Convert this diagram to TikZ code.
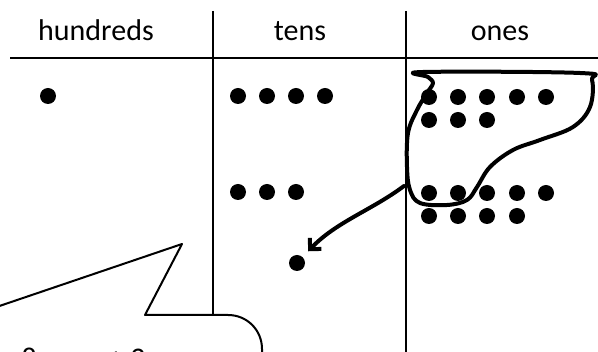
\documentclass[tikz,border=0pt]{standalone}
\usepackage{fontspec}
\setmainfont{Carlito}
\usetikzlibrary{arrows.meta}

\begin{document}
\begin{tikzpicture}[x=1pt, y=-1pt,
  rule/.style={line width=1.3pt},
  counter/.style={circle, fill, inner sep=0pt, minimum size=16pt},
  hand/.style={line width=4pt, line cap=round, line join=round},
  bubble/.style={line width=2pt, fill=white, line join=round},
  heading/.style={font=\fontsize{30}{36}\selectfont, anchor=base}]

\useasboundingbox (0,0) rectangle (598,352);
\clip (0,0) rectangle (598,352);
\fill[white] (0,0) rectangle (598,352);

% column headings
\node[heading] (hund) at (96,41) {hundreds};
\node[heading] (tens) at (300,41) {tens};
\node[heading] (ones) at (500,41) {ones};

% table lines
\draw[rule] (10,58) -- (598,58);
\draw[rule] (213,11) -- (213,330);
\draw[rule] (406,11) -- (406,352);

% counters
\node[counter] (h1) at (48,96) {};
\foreach \x [count=\i] in {238,267,296,325} \node[counter] (t\i) at (\x,96) {};
\foreach \x [count=\i] in {238,267,296} \node[counter] (s\i) at (\x,192) {};
\node[counter] (newten) at (297,263) {};
\foreach \x [count=\i] in {429,458,487,517,546} {
  \node[counter] (p\i) at (\x,97) {};
  \node[counter] (r\i) at (\x,193) {};
}
\foreach \x [count=\i] in {429,458,487} \node[counter] (q\i) at (\x,120) {};
\foreach \x [count=\i] in {429,458,487,517} \node[counter] (w\i) at (\x,216) {};

% ring round ten ones
\draw[hand] plot[smooth cycle, tension=0.6] coordinates {(423,72) (580,73) (592,80) (590,107)
  (573,127) (540,140) (513,150) (490,167) (477,187) (467,200) (447,205) (420,203)
  (410,190) (407,167) (408,133) (417,110) (427,93) (433,83) (428,77)};

% trade for one ten
\coordinate (grab) at (404,186);
\draw[hand, -{Straight Barb[length=8pt, width=16pt]}, shorten >=8pt]
  (grab) .. controls (372,210) and (336,222) .. (newten);

% speech bubble
\draw[bubble] (-30,316) -- (182,244) -- (145,315) -- (228,315)
  .. controls (247,315) and (262,330) .. (262,349) -- (262,370);
\node[heading, anchor=base west] (say) at (18,369) {8 ones + 2 ones};

\end{tikzpicture}
\end{document}
